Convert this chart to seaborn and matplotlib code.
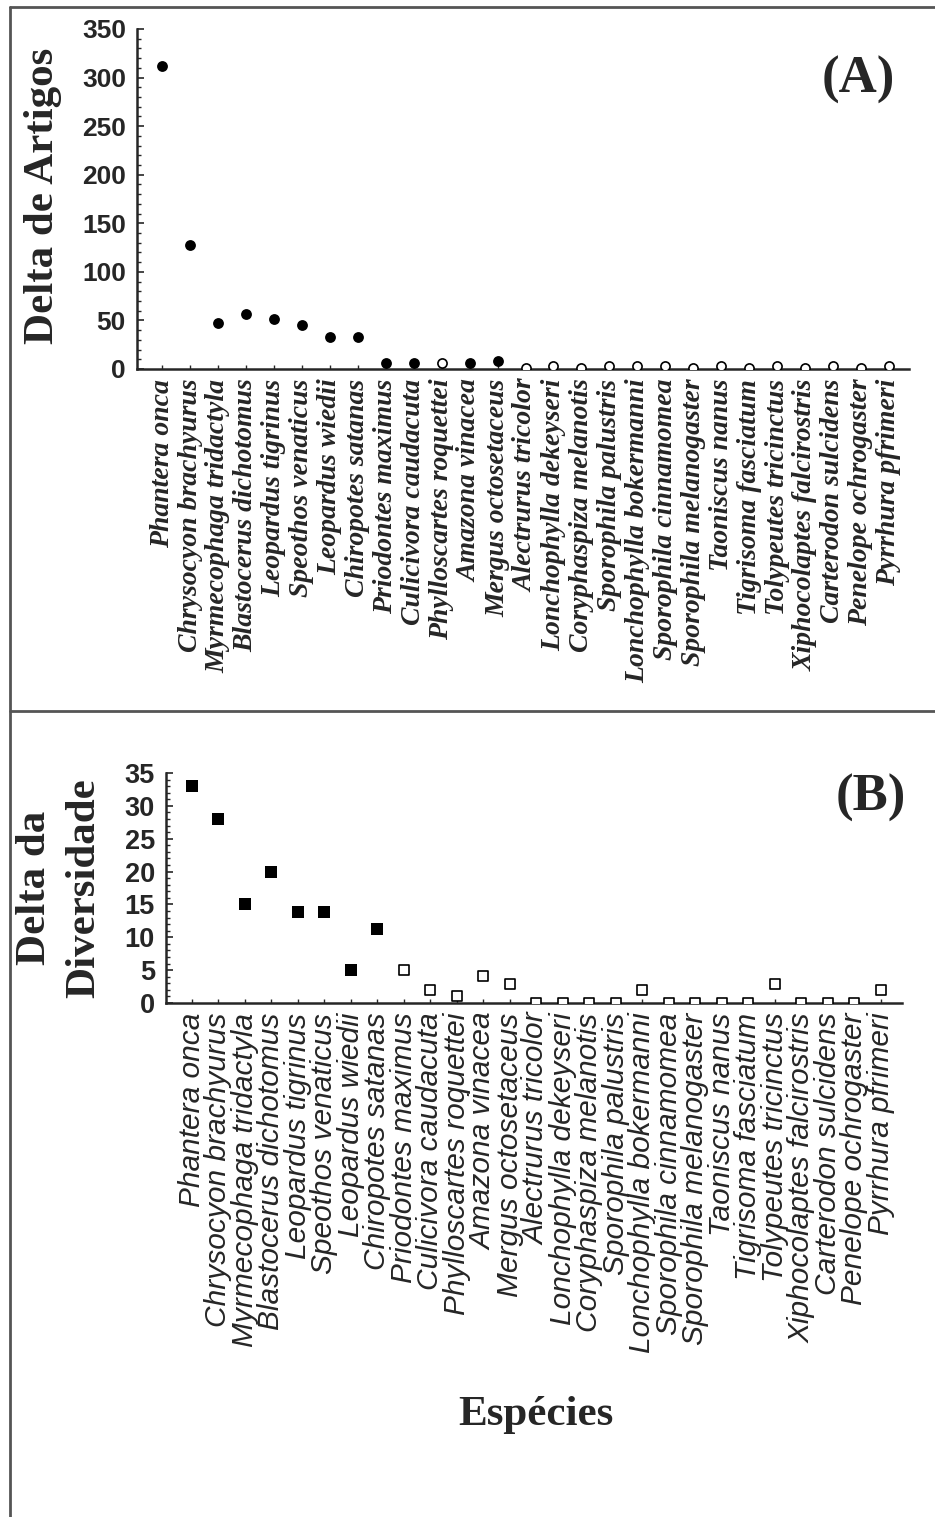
import numpy as np
import pandas as pd
import seaborn as sns
import matplotlib.pyplot as plt
from matplotlib.lines import Line2D
from matplotlib.ticker import MultipleLocator

# species (same order in both panels)
species = ["Phantera onca", "Chrysocyon brachyurus", "Myrmecophaga tridactyla",
           "Blastocerus dichotomus", "Leopardus tigrinus", "Speothos venaticus",
           "Leopardus wiedii", "Chiropotes satanas", "Priodontes maximus",
           "Culicivora caudacuta", "Phylloscartes roquettei", "Amazona vinacea",
           "Mergus octosetaceus", "Alectrurus tricolor", "Lonchophylla dekeyseri",
           "Coryphaspiza melanotis", "Sporophila palustris", "Lonchophylla bokermanni",
           "Sporophila cinnamomea", "Sporophila melanogaster", "Taoniscus nanus",
           "Tigrisoma fasciatum", "Tolypeutes tricinctus", "Xiphocolaptes falcirostris",
           "Carterodon sulcidens", "Penelope ochrogaster", "Pyrrhura pfrimeri"]

# panel A
delta_artigos = [312, 128, 47, 57, 51, 45, 33, 33, 6, 6, 6, 6, 8,
                 1, 3, 1, 3, 3, 3, 1, 3, 1, 3, 1, 3, 1, 3]
artigos_filled = [True] * 10 + [False] + [True, True] + [False] * 14

# panel B
delta_diversidade = [33, 28, 15.1, 20, 13.9, 13.9, 5, 11.2, 5, 2, 1.1, 4.1, 2.9,
                     0, 0, 0, 0, 2, 0, 0, 0, 0, 2.9, 0, 0, 0, 2]
diversidade_filled = [True] * 8 + [False] * 19

df_a = pd.DataFrame({"especie": species, "delta": delta_artigos, "cheio": artigos_filled})
df_b = pd.DataFrame({"especie": species, "delta": delta_diversidade, "cheio": diversidade_filled})

sns.set_style("ticks")
plt.rcParams['font.family'] = ['Liberation Sans', 'DejaVu Sans']

W, H = 935, 1517
fig = plt.figure(figsize=(W / 100, H / 100), dpi=100)


def px_axes(l, r, t, b):
    return fig.add_axes([l / W, 1 - b / H, (r - l) / W, (b - t) / H])


ax1 = px_axes(137, 909, 29, 369)
ax2 = px_axes(166, 902, 773, 1003)


def draw_panel(ax, df, marker, size):
    sns.stripplot(data=df[df.cheio], x="especie", y="delta", order=species,
                  jitter=False, color="black", marker=marker, size=size,
                  linewidth=0, ax=ax, zorder=3)
    sns.stripplot(data=df[~df.cheio], x="especie", y="delta", order=species,
                  jitter=False, color="white", edgecolor="black", marker=marker,
                  size=size - 1.2, linewidth=1.2, ax=ax, zorder=3)
    sns.despine(ax=ax)
    for s in ["left", "bottom"]:
        ax.spines[s].set_linewidth(1.8)
    ax.set_xlabel("")
    ax.set_ylabel("")
    ax.tick_params(axis="y", which="major", direction="in", length=5, width=1.2, pad=8)
    ax.tick_params(axis="y", which="minor", direction="in", length=3, width=1)
    ax.tick_params(axis="x", direction="in", length=3, width=1, pad=7)


# panel A
draw_panel(ax1, df_a, "o", 7.8)
ax1.set_xlim(-0.9, 26.72)
ax1.set_ylim(0, 350)
ax1.set_yticks(range(0, 351, 50))
ax1.yaxis.set_minor_locator(MultipleLocator(10))
ax1.set_yticklabels([str(v) for v in range(0, 351, 50)], fontsize=19,
                    fontweight="bold", family="Liberation Sans")
ax1.set_xticks(range(len(species)))
ax1.set_xticklabels(species, rotation=90, fontsize=20, family="Liberation Serif",
                    style="italic", fontweight="bold")
ax1.set_ylabel("Delta de Artigos", fontsize=31, fontweight="bold",
               family="Liberation Serif")
ax1.yaxis.set_label_coords(-0.097, 0.51)

# panel B
draw_panel(ax2, df_b, "s", 8.6)
ax2.set_xlim(-0.98, 26.8)
ax2.set_ylim(0, 35)
ax2.set_yticks(range(0, 36, 5))
ax2.yaxis.set_minor_locator(MultipleLocator(1))
ax2.set_yticklabels([str(v) for v in range(0, 36, 5)], fontsize=19.5,
                    fontweight="bold", family="Liberation Sans")
ax2.set_xticks(range(len(species)))
ax2.set_xticklabels(species, rotation=90, fontsize=21.5, family="Liberation Sans",
                    style="italic")
ax2.set_ylabel("Delta da\nDiversidade", fontsize=31, fontweight="bold",
               family="Liberation Serif", linespacing=1.4)
ax2.yaxis.set_label_coords(-0.085, 0.5)

fig.text(858 / W, 1 - 80 / H, "(A)", fontsize=38, fontweight="bold",
         family="Liberation Serif", ha="center", va="center")
fig.text(871 / W, 1 - 798 / H, "(B)", fontsize=38, fontweight="bold",
         family="Liberation Serif", ha="center", va="center")
fig.text(536 / W, 1 - 1415 / H, "Espécies", fontsize=31, fontweight="bold",
         family="Liberation Serif", ha="center", va="center")

# frame lines around the panels
frame = dict(color="#555555", linewidth=2, transform=fig.transFigure)
fig.add_artist(Line2D([9.5 / W, 9.5 / W], [0, 1 - 7 / H], **frame))
fig.add_artist(Line2D([9.5 / W, 1], [1 - 7 / H, 1 - 7 / H], **frame))
fig.add_artist(Line2D([9.5 / W, 1], [1 - 711 / H, 1 - 711 / H], **frame))

fig.savefig("out.png", dpi=100)
